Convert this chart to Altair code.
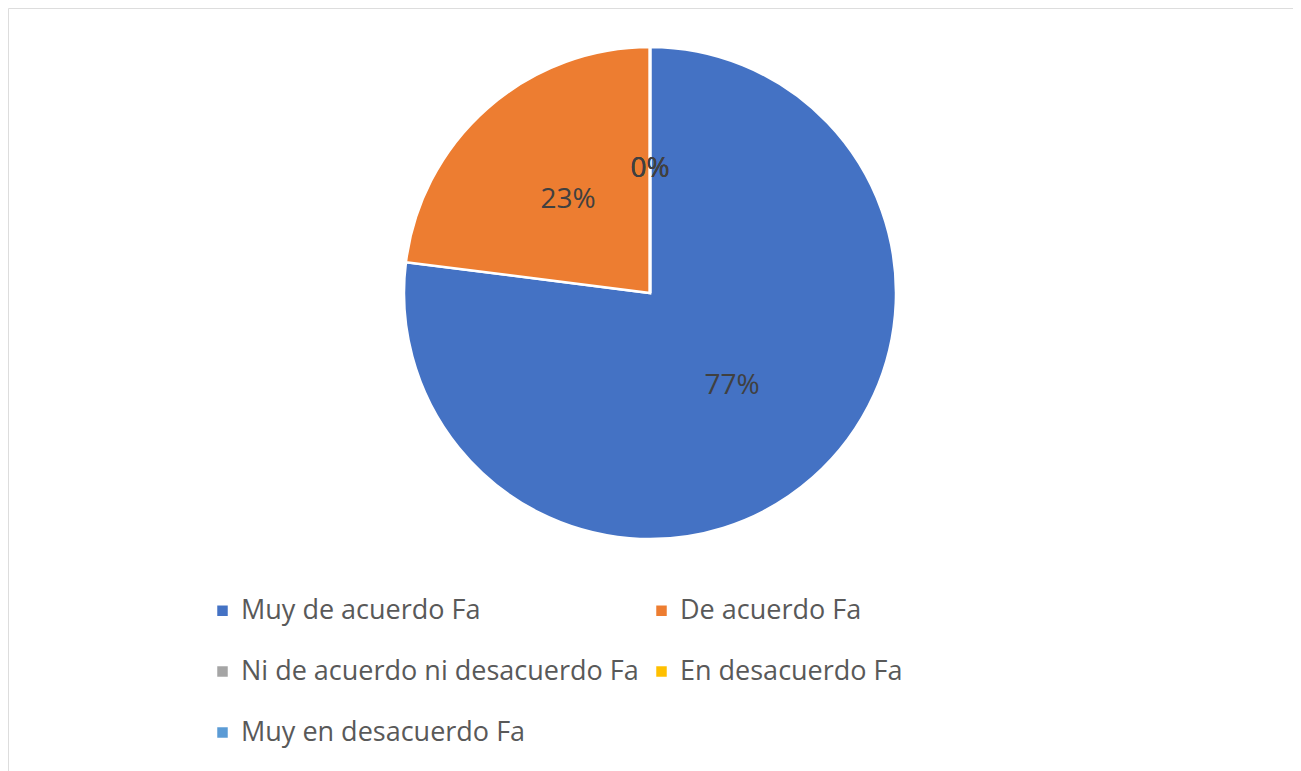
import altair as alt
import pandas as pd

categories = [
    "Muy de acuerdo Fa",
    "De acuerdo Fa",
    "Ni de acuerdo ni desacuerdo Fa",
    "En desacuerdo Fa",
    "Muy en desacuerdo Fa",
]
values = [77, 23, 0, 0, 0]
labels = ["77%", "23%", "0%", "0%", "0%"]
colors = ["#4472C4", "#ED7D31", "#A5A5A5", "#FFC000", "#5B9BD5"]
# legend fills column by column; this order gives the row-wise reading of the reference
legend_order = [categories[0], categories[2], categories[4], categories[1], categories[3]]

df = pd.DataFrame({
    "cat": categories,
    "val": values,
    "lab": labels,
    "ord": list(range(len(categories))),
})

CX, CY = 642, 285
R = 246

base = alt.Chart(df).encode(
    theta=alt.Theta("val:Q", stack=True),
    order=alt.Order("ord:Q", sort="ascending"),
)

pie = base.mark_arc(radius=R, stroke="white", strokeWidth=2.5).encode(
    color=alt.Color(
        "cat:N",
        scale=alt.Scale(domain=categories, range=colors),
        legend=alt.Legend(
            title=None,
            values=legend_order,
            orient="none",
            legendX=201,
            legendY=589,
            columns=2,
            columnPadding=9,
            rowPadding=33,
            symbolType="square",
            symbolSize=110,
            symbolStrokeWidth=0,
            labelFont="Open Sans",
            labelFontSize=27,
            labelColor="#595959",
            labelOffset=5,
            labelLimit=700,
        ),
    ),
    x=alt.value(CX),
    y=alt.value(CY),
)

text = base.mark_text(
    radius=124, font="Open Sans", fontSize=28, color="#404040"
).encode(
    text="lab:N",
    x=alt.value(CX),
    y=alt.value(CY),
)

chart = (
    alt.layer(pie, text)
    .properties(
        width=1285,
        height=790,
        padding=0,
        autosize=alt.AutoSizeParams(type="none"),
    )
    .configure_view(stroke="#D9D9D9", strokeWidth=3, fill="white")
    .configure(background="white")
)

chart.save("out.html", embed_options={"renderer": "svg", "actions": False})
